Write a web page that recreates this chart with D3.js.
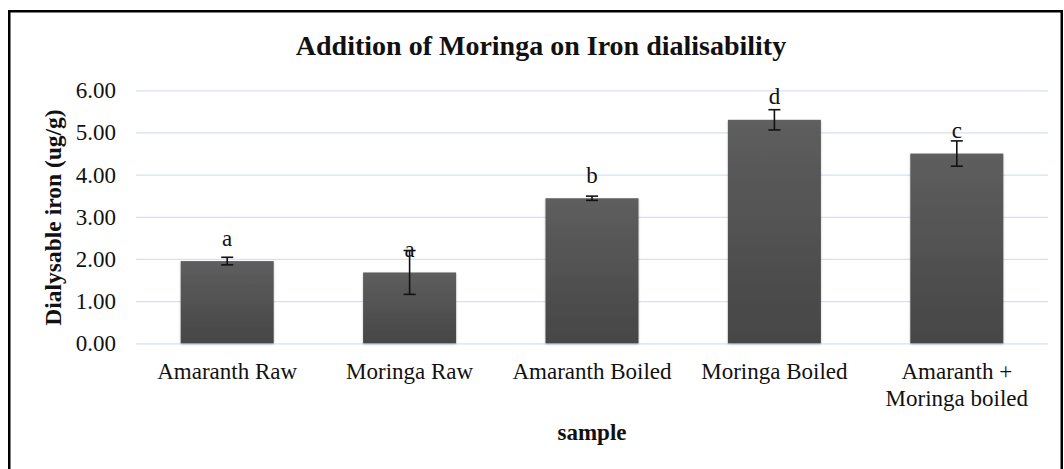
<!DOCTYPE html>
<html><head><meta charset="utf-8">
<script src="https://cdn.jsdelivr.net/npm/d3@7"></script>
<style>
html,body{margin:0;padding:0;background:#fff;}
svg{display:block;}
text{font-family:"Liberation Serif","Times New Roman",serif;fill:#111;}
</style></head>
<body>
<svg id="chart" width="1064" height="469"></svg>
<script>
const categories = ["Amaranth Raw","Moringa Raw","Amaranth Boiled","Moringa Boiled","Amaranth + Moringa boiled"];
const categoryLines = [["Amaranth Raw"],["Moringa Raw"],["Amaranth Boiled"],["Moringa Boiled"],["Amaranth +","Moringa boiled"]];
const values = [1.95, 1.68, 3.44, 5.30, 4.50];
const errors = [0.09, 0.52, 0.05, 0.24, 0.30];
const letters = ["a","a","b","d","c"];
const yTicks = [0,1,2,3,4,5,6];
const title = "Addition of Moringa on Iron dialisability";
const yTitle = "Dialysable iron (ug/g)";
const xTitle = "sample";

(function(){
const svg = d3.select("#chart");
const pL = 136, pR = 1048, pT = 90.3, pB = 343.3;

// frame
svg.append("rect").attr("x",9.25).attr("y",11.25).attr("width",1052.5).attr("height",470)
  .attr("fill","none").attr("stroke","#000").attr("stroke-width",2.5);

const x = d3.scaleBand().domain(categories).range([pL,pR]).paddingInner(0.49).paddingOuter(0.245);
const y = d3.scaleLinear().domain([0,6]).range([pB,pT]);

const defs = svg.append("defs");
const g = defs.append("linearGradient").attr("id","barGrad").attr("x1",0).attr("y1",0).attr("x2",0).attr("y2",1);
g.append("stop").attr("offset","0%").attr("stop-color","#5e5e5e");
g.append("stop").attr("offset","100%").attr("stop-color","#464646");
const f = defs.append("filter").attr("id","shadow").attr("x","-10%").attr("y","-10%").attr("width","120%").attr("height","120%");
f.append("feDropShadow").attr("dx",0).attr("dy",1).attr("stdDeviation",1.2).attr("flood-color","#000").attr("flood-opacity",0.25);

// gridlines
svg.append("g").selectAll("line").data(yTicks).join("line")
  .attr("x1",pL).attr("x2",pR)
  .attr("y1",d=>y(d)+0.5).attr("y2",d=>y(d)+0.5)
  .attr("stroke","#d5e1f1").attr("stroke-width",1.3);

// y axis labels
const yAxis = d3.axisLeft(y).tickValues(yTicks).tickFormat(d3.format(".2f")).tickSize(0).tickPadding(20);
const ya = svg.append("g").attr("transform",`translate(${pL},0)`).call(yAxis);
ya.select(".domain").remove();
ya.selectAll("text").attr("font-size",23).attr("font-family","Liberation Serif").attr("fill","#111").attr("dy","0.32em");

// bars
svg.append("g").selectAll("rect").data(values).join("rect")
  .attr("x",(d,i)=>x(categories[i]))
  .attr("y",d=>y(d))
  .attr("width",x.bandwidth())
  .attr("height",d=>y(0)-y(d))
  .attr("fill","url(#barGrad)")
  .attr("filter","url(#shadow)");

// error bars
const eg = svg.append("g").attr("stroke","#111").attr("stroke-width",1.6);
values.forEach((v,i)=>{
  const cx = x(categories[i]) + x.bandwidth()/2;
  const y1 = y(v+errors[i]), y2 = y(v-errors[i]);
  eg.append("line").attr("x1",cx).attr("x2",cx).attr("y1",y1).attr("y2",y2);
  eg.append("line").attr("x1",cx-6).attr("x2",cx+6).attr("y1",y1).attr("y2",y1);
  eg.append("line").attr("x1",cx-6).attr("x2",cx+6).attr("y1",y2).attr("y2",y2);
});

// letters
svg.append("g").selectAll("text").data(letters).join("text")
  .attr("x",(d,i)=>x(categories[i]) + x.bandwidth()/2)
  .attr("y",(d,i)=>y(values[i]) - 15.5)
  .attr("text-anchor","middle").attr("font-size",23).text(d=>d);

// x category labels
const xl = svg.append("g");
categoryLines.forEach((lines,i)=>{
  const cx = x(categories[i]) + x.bandwidth()/2;
  const t = xl.append("text").attr("x",cx).attr("y",378.5)
    .attr("text-anchor","middle").attr("font-size",23);
  lines.forEach((ln,j)=>{
    t.append("tspan").attr("x",cx).attr("dy", j===0?0:27.5).text(ln);
  });
});

// titles
svg.append("text").attr("x",(pL+pR)/2 - 51).attr("y",55).attr("text-anchor","middle")
  .attr("font-size",28).attr("font-weight","bold").text(title);
svg.append("text").attr("x",(pL+pR)/2).attr("y",440).attr("text-anchor","middle")
  .attr("font-size",23).attr("font-weight","bold").text(xTitle);
svg.append("text").attr("transform",`translate(61,217.5) rotate(-90)`).attr("text-anchor","middle")
  .attr("font-size",23.5).attr("font-weight","bold").text(yTitle);
})();
</script>
</body></html>
